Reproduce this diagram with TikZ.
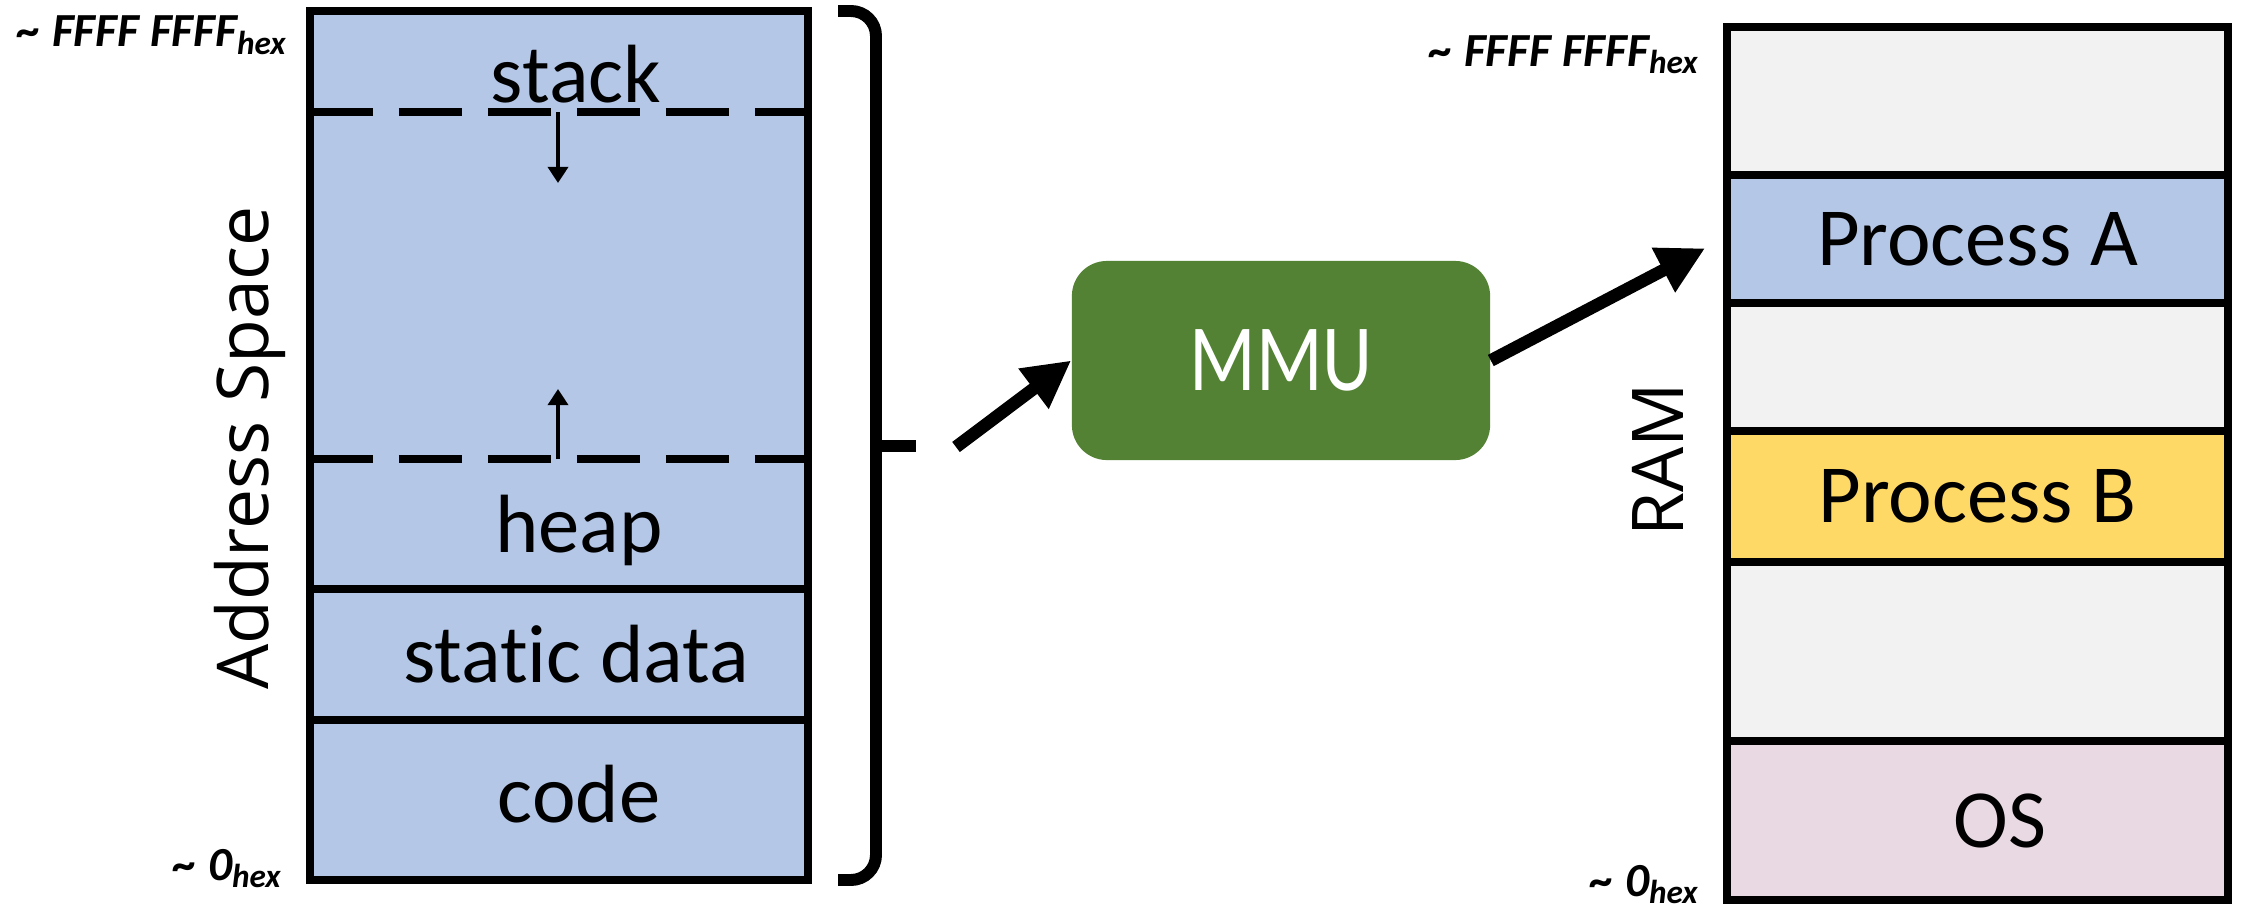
\documentclass[tikz,border=0pt]{standalone}
\usepackage{fontspec}
\setmainfont{Carlito}[Ligatures=NoCommon]
\newfontfamily\sidefont{Open Sans}
\newfontfamily\mmufont[FakeStretch=0.82]{Carlito}
\usetikzlibrary{arrows.meta}

\definecolor{spaceblue}{HTML}{B4C7E7}
\definecolor{mmugreen}{HTML}{548235}
\definecolor{procyellow}{HTML}{FFD966}
\definecolor{freegray}{HTML}{F2F2F2}
\definecolor{ospink}{HTML}{E9D9E3}

\begin{document}
\begin{tikzpicture}[x=0.01cm, y=-0.01cm,
    wall/.style={line width=2.3pt},
    cell text/.style={font=\fontsize{23.5}{28}\selectfont, inner sep=0pt},
    side text/.style={font=\sidefont\fontsize{20.3}{24}\selectfont, rotate=90, anchor=base, inner sep=0pt},
    addr/.style={font=\fontsize{13.5}{16}\selectfont\bfseries\itshape, anchor=base east, inner sep=0pt},
    ramcell/.style={draw, wall, minimum width=5.01cm, inner sep=0pt, font=\fontsize{23.5}{28}\selectfont},
    growarrow/.style={line width=1.1pt, -{Triangle[length=4.6pt, width=5.7pt]}},
    bigarrow/.style={line width=3.6pt, -{Triangle[length=13.4pt, width=13.4pt]}}]

    \useasboundingbox (0,0) rectangle (2242,912);

    % Address space
    \fill[spaceblue] (310,11) rectangle (808,880);
    \draw[wall] (310,11) rectangle (808,880);
    \foreach \y in {589,720}
        \draw[wall] (310,\y) -- (808,\y);
    \foreach \y in {112,459}
        \draw[wall, dash pattern=on 17.9pt off 7.4pt] (310,\y) -- (808,\y);

    \node[cell text, anchor=base] (stack) at (576,102) {stack};
    \node[cell text, anchor=base] (heap) at (579,552) {heap};
    \node[cell text, anchor=base] (static) at (576,682) {static data};
    \node[cell text, anchor=base] (code) at (579,822) {code};

    % growth arrows
    \draw[growarrow] (558,112) -- (558,183);
    \draw[growarrow] (558,459) -- (558,389);

    \node[side text] (addrspace) at (268,448) {Address Space};
    \node[addr] (lefttop) at (288,47) {\textasciitilde{} FFFF FFFF\textsubscript{hex}};
    \node[addr] (leftbot) at (283,880) {\textasciitilde{} 0\textsubscript{hex}};

    % Brace
    \draw[line width=3.4pt, rounded corners=0.25cm] (838,11) -- (876,11) -- (876,880) -- (838,880);
    \draw[line width=3.4pt] (876,446) -- (916,446) coordinate (bracetip);
    \coordinate (mapin) at (956,447);

    % MMU
    \node[fill=mmugreen, rounded corners=0.35cm, minimum width=4.18cm, minimum height=1.99cm,
          text=white, font=\mmufont\fontsize{27}{32}\selectfont] (mmu) at (1281,360.5) {MMU};

    % RAM
    \node[ramcell, fill=freegray, minimum height=1.48cm] (freetop) at (1977.5,101) {};
    \node[ramcell, fill=spaceblue, minimum height=1.28cm] (procA) at (1977.5,239) {Process A};
    \node[ramcell, fill=freegray, minimum height=1.28cm] (freemid) at (1977.5,367) {};
    \node[ramcell, fill=procyellow, minimum height=1.31cm] (procB) at (1977.5,496.5) {Process B};
    \node[ramcell, fill=freegray, minimum height=1.79cm] (freelow) at (1977.5,651.5) {};
    \node[ramcell, fill=ospink, minimum height=1.59cm] (os) at (1977.5,820.5) {\hspace*{0.45cm}OS};

    \node[side text] (ram) at (1683,460) {RAM};
    \node[addr] (righttop) at (1700,66) {\textasciitilde{} FFFF FFFF\textsubscript{hex}};
    \node[addr] (rightbot) at (1700,896) {\textasciitilde{} 0\textsubscript{hex}};

    % Mapping arrows
    \draw[bigarrow] (mapin) -- (mmu.west);
    \draw[bigarrow, shorten >=0.2cm] (mmu.east) -- (procA.west);

\end{tikzpicture}
\end{document}
